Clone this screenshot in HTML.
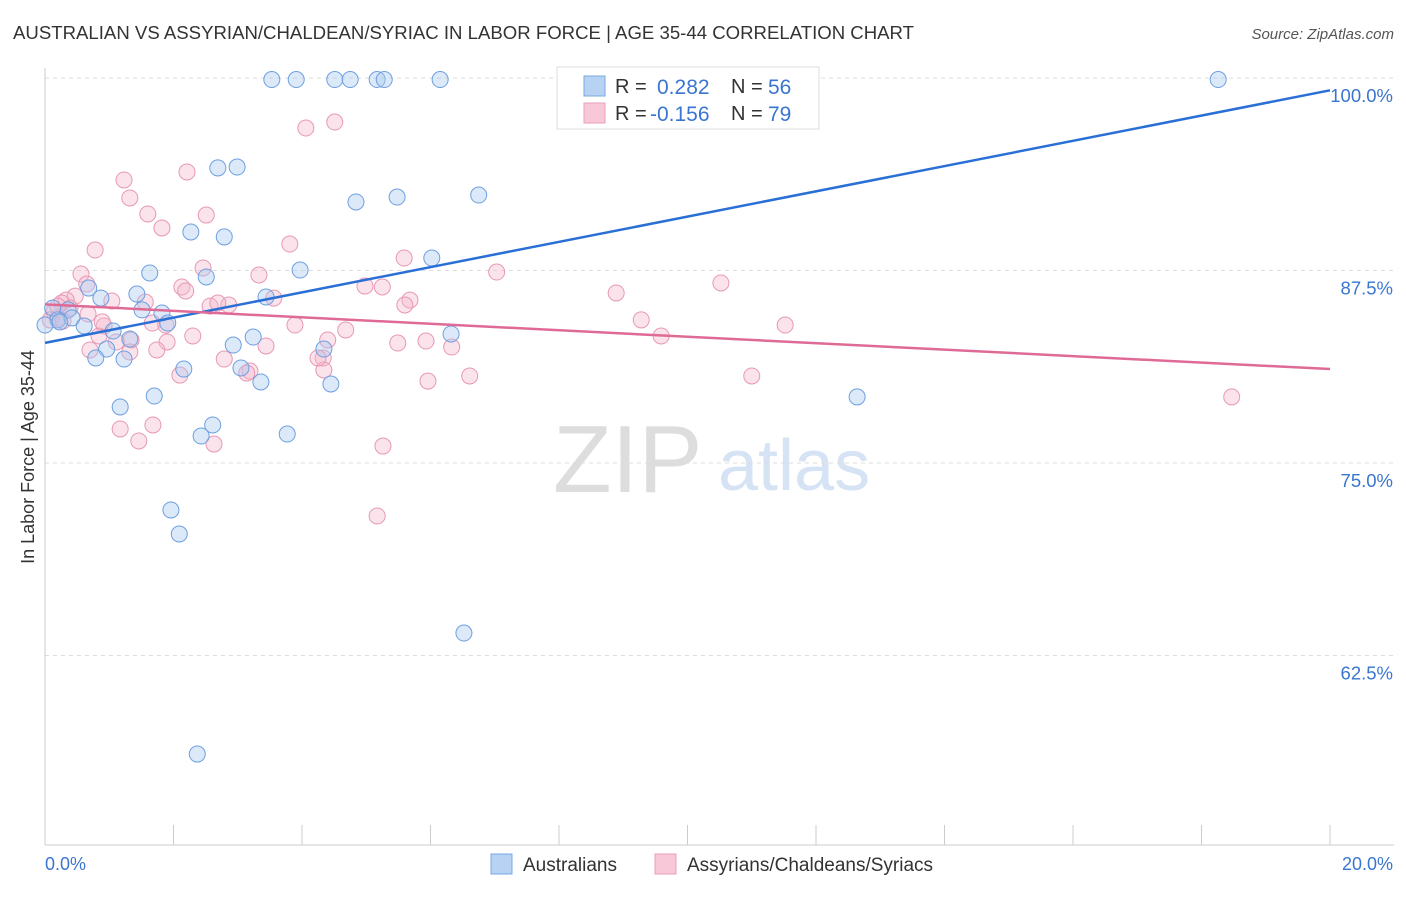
<!DOCTYPE html>
<html><head><meta charset="utf-8">
<style>
body{margin:0;background:#fff;font-family:"Liberation Sans",sans-serif;}
svg text{font-family:"Liberation Sans",sans-serif;}
</style></head>
<body>
<svg id="chart" width="1406" height="892" viewBox="0 0 1406 892" xmlns="http://www.w3.org/2000/svg">
<text x="13" y="39" font-size="18.6" fill="#333">AUSTRALIAN VS ASSYRIAN/CHALDEAN/SYRIAC IN LABOR FORCE | AGE 35-44 CORRELATION CHART</text>
<text x="1394" y="39" font-size="15" fill="#555" text-anchor="end" font-style="italic">Source: ZipAtlas.com</text>
<g>
<text x="553" y="492" font-size="96" fill="#ddd" font-family="Liberation Serif,serif">ZIP</text>
<text x="718" y="490" font-size="72" fill="#d5e3f5">atlas</text>
</g>
<g id="grid"></g>
<g id="axes"></g>
<g id="points"></g>
<g id="trends"></g>
<text transform="translate(34,457) rotate(-90)" font-size="18" fill="#333" text-anchor="middle">In Labor Force | Age 35-44</text>
<g>
<rect x="557" y="67" width="262" height="62" fill="#fff" stroke="#ddd"/>
<rect x="584" y="76" width="21" height="20" fill="#b8d2f4" stroke="#7aa8e0"/>
<text x="615" y="93" font-size="20" fill="#333">R = </text><text x="657" y="94" font-size="21" fill="#3a76d0">0.282</text>
<text x="731" y="93" font-size="20" fill="#333">N = </text><text x="768" y="94" font-size="21" fill="#3a76d0">56</text>
<rect x="584" y="103" width="21" height="20" fill="#f8c8d8" stroke="#e8a0b8"/>
<text x="615" y="120" font-size="20" fill="#333">R = </text><text x="650" y="121" font-size="21" fill="#3a76d0">-0.156</text>
<text x="731" y="120" font-size="20" fill="#333">N = </text><text x="768" y="121" font-size="21" fill="#3a76d0">79</text>
</g>
<g>
<rect x="491" y="854" width="21" height="20" fill="#b8d2f4" stroke="#7aa8e0"/>
<text x="523" y="871" font-size="19" fill="#333">Australians</text>
<rect x="655" y="854" width="21" height="20" fill="#f8c8d8" stroke="#e8a0b8"/>
<text x="687" y="871" font-size="19" fill="#333">Assyrians/Chaldeans/Syriacs</text>
</g>
</svg>
<script>
const yTicks=[100,87.5,75,62.5];
const yTickLabels=["100.0%","87.5%","75.0%","62.5%"];
const xTickLabels=["0.0%","20.0%"];
const blueX=[3.53,3.91,4.51,4.75,5.17,5.28,6.15,18.26,2.69,2.99,4.84,5.48,6.75,2.27,2.79,6.02,3.97,1.63,2.51,0.68,1.43,3.44,0.87,0.12,0.36,1.82,1.51,0.20,0.42,0.61,1.91,1.06,3.24,1.32,6.32,2.93,0.96,0.79,1.23,4.34,3.05,2.16,3.36,4.45,1.70,12.64,1.17,2.61,2.43,3.77,1.96,2.09,6.52,2.37,0.0,0.23];
const blueY=[99.9,99.9,99.9,99.9,99.9,99.9,99.9,99.9,94.16,94.22,91.95,92.27,92.40,90.0,89.68,88.31,87.53,87.34,87.08,86.36,85.97,85.78,85.71,85.06,84.94,84.74,84.94,84.29,84.42,83.90,84.09,83.57,83.18,83.05,83.38,82.66,82.40,81.82,81.75,82.40,81.17,81.10,80.26,80.13,79.35,79.29,78.64,77.47,76.75,76.88,71.95,70.39,63.96,56.10,83.96,84.16];
const pinkX=[4.06,4.51,1.23,2.21,1.32,1.60,2.51,1.82,0.78,3.81,5.59,7.03,0.56,2.46,3.33,0.65,2.13,2.19,10.52,4.98,5.25,8.89,5.68,5.60,3.56,1.04,1.56,2.57,2.86,2.69,0.47,0.33,0.26,0.67,0.14,0.20,0.08,9.28,11.52,3.89,1.67,1.88,0.92,4.68,9.59,2.30,0.84,1.34,1.11,1.90,4.40,3.44,5.49,5.93,6.33,0.70,1.32,4.33,2.79,3.19,3.14,4.34,2.10,5.96,6.61,11.00,18.47,1.68,1.17,1.46,2.63,5.26,5.17,4.25,0.28,0.39,0.89,1.74,0.20];
const pinkY=[96.75,97.14,93.38,93.90,92.21,91.17,91.10,90.26,88.83,89.22,88.31,87.40,87.27,87.66,87.21,86.62,86.43,86.17,86.69,86.49,86.43,86.04,85.58,85.26,85.71,85.52,85.45,85.19,85.26,85.39,85.84,85.58,85.39,84.68,84.81,84.42,84.29,84.29,83.96,83.96,84.09,83.96,83.90,83.64,83.25,83.25,83.25,82.99,82.86,82.86,82.99,82.60,82.79,82.92,82.53,82.34,82.21,81.82,81.75,80.97,80.84,81.04,80.71,80.32,80.65,80.65,79.29,77.47,77.21,76.43,76.23,76.10,71.56,81.82,84.22,85.06,84.16,82.34,85.19];
const blueTrend=[82.8,99.2];
const pinkTrend=[85.3,81.1];
const NS="http://www.w3.org/2000/svg";
const X=v=>45+v/20*1285;
const Y=v=>78+(100-v)/12.5*192.5;
function mk(tag,attrs,parent){const e=document.createElementNS(NS,tag);for(const k in attrs)e.setAttribute(k,attrs[k]);parent.appendChild(e);return e;}
const grid=document.getElementById('grid'),axes=document.getElementById('axes'),pts=document.getElementById('points'),tr=document.getElementById('trends');
yTicks.forEach((t,i)=>{
 const l=mk('line',{x1:45,x2:1394,y1:Y(t),y2:Y(t),stroke:'#ddd','stroke-dasharray':'4,4'},grid);
 
 
 const tx=mk('text',{x:1393,y:Y(t)+24,'font-size':18.5,fill:'#3a76d0','text-anchor':'end'},axes);
 tx.textContent=yTickLabels[i];
 
 
});
const ax=mk('line',{x1:45,x2:45,y1:68,y2:845,stroke:'#ccc'},axes);


const bx=mk('line',{x1:45,x2:1394,y1:845,y2:845,stroke:'#ccc'},axes);


for(let i=0;i<=10;i++){
 const t=mk('line',{x1:X(i*2),x2:X(i*2),y1:825,y2:845,stroke:'#ccc'},axes);
 
 
}
[[0,'start',45],[20,'end',1393]].forEach((d,i)=>{
 const t=mk('text',{x:d[2],y:870,'font-size':18,fill:'#3a76d0','text-anchor':d[1]},axes);
 t.textContent=xTickLabels[i];
 
 
});
function scatter(xs,ys,fill,stroke,name){
 xs.forEach((x,i)=>{
  const c=mk('circle',{cx:X(x),cy:Y(ys[i]),r:8,fill:fill,'fill-opacity':0.4,stroke:stroke,'stroke-width':1},pts);
  
  
 });
}
scatter(pinkX,pinkY,'#f4b8cc','#e898b4','assyrian-point');
scatter(blueX,blueY,'#a8c8f0','#6e9fe0','australian-point');
const bl=mk('line',{x1:X(0),y1:Y(blueTrend[0]),x2:X(20),y2:Y(blueTrend[1]),stroke:'#2a6fd6','stroke-width':2.5},tr);


const pl=mk('line',{x1:X(0),y1:Y(pinkTrend[0]),x2:X(20),y2:Y(pinkTrend[1]),stroke:'#e06a96','stroke-width':2.5},tr);


</script>
</body></html>
